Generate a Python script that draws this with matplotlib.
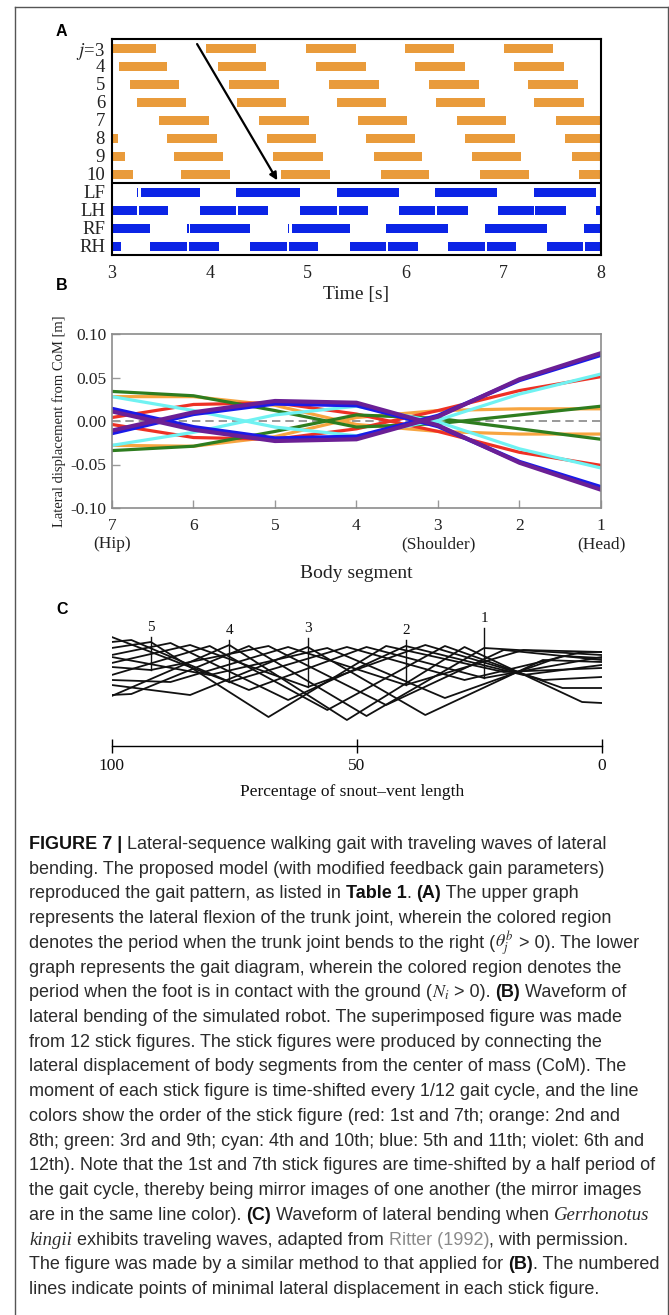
import matplotlib
matplotlib.use("Agg")
import matplotlib.pyplot as plt
from matplotlib.lines import Line2D

plt.rcParams['font.family'] = ['Liberation Serif', 'DejaVu Serif']
plt.rcParams['mathtext.fontset'] = 'stix'

W, H = 669, 1315
fig = plt.figure(figsize=(W / 100, H / 100), dpi=100)

ORANGE = '#e99b3b'
BLUE = '#0b24e6'

# ---------------- panel A data (times in s) ----------------
trunk_labels = [r'$j$=3', '4', '5', '6', '7', '8', '9', '10']
trunk_j3 = [(3.00, 3.45), (3.96, 4.47), (4.98, 5.49), (6.00, 6.50), (7.01, 7.51)]
trunk_j4 = [(3.07, 3.56), (4.08, 4.57), (5.09, 5.60), (6.10, 6.61), (7.11, 7.62)]
trunk_j5 = [(3.18, 3.68), (4.20, 4.71), (5.22, 5.73), (6.24, 6.75), (7.25, 7.76)]
trunk_j6 = [(3.26, 3.76), (4.28, 4.78), (5.30, 5.80), (6.31, 6.81), (7.32, 7.83)]
trunk_j7 = [(3.48, 3.99), (4.50, 5.01), (5.52, 6.02), (6.53, 7.03), (7.54, 8.00)]
trunk_j8 = [(3.00, 3.06), (3.56, 4.07), (4.58, 5.09), (5.60, 6.10), (6.61, 7.12), (7.63, 8.00)]
trunk_j9 = [(3.00, 3.13), (3.63, 4.14), (4.65, 5.16), (5.68, 6.17), (6.68, 7.18), (7.70, 8.00)]
trunk_j10 = [(3.00, 3.21), (3.71, 4.21), (4.73, 5.23), (5.75, 6.24), (6.76, 7.26), (7.77, 8.00)]

foot_labels = ['LF', 'LH', 'RF', 'RH']
foot_LF = [(3.26, 3.27), (3.30, 3.90), (4.27, 4.92), (5.30, 5.93), (6.30, 6.94), (7.32, 7.95)]
foot_LH = [(3.00, 3.26), (3.28, 3.57), (3.90, 4.27), (4.29, 4.60), (4.92, 5.30), (5.32, 5.62),
           (5.93, 6.30), (6.32, 6.64), (6.95, 7.32), (7.33, 7.64), (7.95, 8.00)]
foot_RF = [(3.00, 3.39), (3.77, 3.785), (3.80, 4.41), (4.795, 4.81), (4.84, 5.43), (5.80, 6.44),
           (6.81, 7.45), (7.83, 8.00)]
foot_RH = [(3.00, 3.09), (3.39, 3.77), (3.79, 4.09), (4.41, 4.79), (4.81, 5.11), (5.43, 5.80),
           (5.82, 6.13), (6.44, 6.81), (6.83, 7.13), (7.45, 7.82), (7.84, 8.00)]

trunk_rows = [trunk_j3, trunk_j4, trunk_j5, trunk_j6, trunk_j7, trunk_j8, trunk_j9, trunk_j10]
foot_rows = [foot_LF, foot_LH, foot_RF, foot_RH]
time_ticks = [3, 4, 5, 6, 7, 8]

# ---------------- panel B data (lateral displacement, m) ----------------
segments = [7, 6, 5, 4, 3, 2, 1]
seg_labels = ['7\n(Hip)', '6', '5', '4', '3\n(Shoulder)', '2', '1\n(Head)']
red_1 = [0.004, 0.019, 0.021, 0.008, -0.012, -0.036, -0.051]
red_7 = [-0.004, -0.019, -0.021, -0.009, 0.012, 0.035, 0.051]
orange_2 = [0.028, 0.028, 0.018, -0.004, -0.012, -0.015, -0.015]
orange_8 = [-0.028, -0.029, -0.018, 0.004, 0.012, 0.014, 0.014]
green_3 = [0.034, 0.029, 0.012, -0.007, -0.003, 0.007, 0.017]
green_9 = [-0.034, -0.029, -0.012, 0.007, 0.003, -0.009, -0.021]
cyan_4 = [0.028, 0.012, -0.007, -0.017, 0.001, 0.031, 0.054]
cyan_10 = [-0.028, -0.013, 0.007, 0.017, -0.001, -0.032, -0.054]
blue_5 = [0.014, -0.007, -0.020, -0.018, 0.006, 0.047, 0.076]
blue_11 = [-0.014, 0.008, 0.020, 0.018, -0.006, -0.047, -0.076]
violet_6 = [0.011, -0.010, -0.023, -0.021, 0.005, 0.048, 0.078]
violet_12 = [-0.011, 0.010, 0.023, 0.021, -0.005, -0.048, -0.079]

# ---------------- panel C data (traced stick figures) ----------------
# x: percentage of snout-vent length, y: lateral position in drawing units (down = larger)
c_pct_a = [100, 76, 52, 28, 4, 0]
c_pct_b = [100, 96, 72, 48, 24, 0]
c_pct_c = [100, 92, 68, 44, 20, 0]
c_pct_d = [100, 88, 64, 40, 16, 0]
c_pct_e = [100, 84, 60, 36, 12, 0]
c_pct_f = [100, 80, 56, 32, 8, 0]
stick_01 = [17, 62, 27, 60, 32, 32]
stick_02 = [22, 20, 70, 27, 58, 37]
stick_03 = [28, 22, 97, 26, 52, 48]
stick_04 = [35, 23, 80, 26, 55, 45]
stick_05 = [43, 25, 67, 25, 60, 57]
stick_06 = [55, 26, 90, 26, 68, 68]
stick_07 = [76, 25, 100, 27, 82, 83]
stick_08 = [75, 74, 26, 96, 28, 35]
stick_09 = [47, 50, 26, 85, 30, 40]
stick_10 = [60, 62, 27, 65, 30, 32]
stick_11 = [65, 75, 27, 95, 40, 42]
stick_12 = [37, 55, 28, 78, 36, 38]
marker_labels = ['5', '4', '3', '2', '1']
marker_pct = [92, 76, 60, 40, 24]
marker_top = [17, 20, 18, 20, 8]
marker_bottom = [50, 62, 67, 65, 58]
scale_ticks = [100, 50, 0]


def px_axes(x0, y0, x1, y1):
    return fig.add_axes([x0 / W, 1 - y1 / H, (x1 - x0) / W, (y1 - y0) / H])


# outer frame
for xs, ys in [([14.5, 14.5], [0, 6.5]), ([667.5, 667.5], [0, 6.5]), ([14.5, 667.5], [6.5, 6.5])]:
    fig.add_artist(Line2D([x / W for x in xs], [1 - y / H if y else 0 for y in ys],
                          transform=fig.transFigure, color='#555555', lw=1.0))

panel_font = dict(family='Liberation Sans', fontweight='bold', fontsize=11.5, ha='left', va='center')
fig.text(56 / W, 1 - 32 / H, 'A', **panel_font)
fig.text(56 / W, 1 - 286 / H, 'B', **panel_font)
fig.text(56 / W, 1 - 610 / H, 'C', **panel_font)

# ---------------- panel A ----------------
axA = px_axes(112, 39, 601, 255)
for i, segs in enumerate(trunk_rows):
    axA.broken_barh([(s, e - s) for s, e in segs], (i + 0.25, 0.5), facecolors=ORANGE, edgecolor='none')
for i, segs in enumerate(foot_rows):
    axA.broken_barh([(s, e - s) for s, e in segs], (8 + i + 0.25, 0.5), facecolors=BLUE, edgecolor='none')
axA.axhline(8, color='black', lw=1.5)
axA.annotate('', xy=(4.69, 7.85), xytext=(3.87, 0.28),
             arrowprops=dict(arrowstyle='-|>', color='black', lw=1.6, mutation_scale=11,
                             shrinkA=0, shrinkB=0))
axA.set_xlim(3, 8)
axA.set_ylim(12, 0)
axA.set_yticks([i + 0.5 for i in range(12)])
axA.set_yticklabels(trunk_labels + foot_labels, fontsize=13.5, color='#222222')
axA.set_xticks(time_ticks)
axA.set_xticklabels([str(t) for t in time_ticks], fontsize=13, color='#222222')
axA.tick_params(axis='both', length=0)
axA.tick_params(axis='y', pad=5)
axA.tick_params(axis='x', pad=7)
for sp in axA.spines.values():
    sp.set_linewidth(1.5)
fig.text(356 / W, 1 - 295 / H, 'Time [s]', fontsize=14, ha='center', va='center', color='#222222')

# ---------------- panel B ----------------
axB = px_axes(112, 334, 601, 508)
axB.axhline(0, color='#888888', lw=1.2, ls=(0, (5, 3)), zorder=1)
b_series = [
    (orange_2, '#f7a540', 2.3), (orange_8, '#f7a540', 2.3),
    (red_1, '#ee3124', 2.3), (red_7, '#ee3124', 2.3),
    (green_3, '#2e7d1f', 2.3), (green_9, '#2e7d1f', 2.3),
    (cyan_4, '#70f2f2', 2.3), (cyan_10, '#70f2f2', 2.3),
    (blue_5, '#1a1ae8', 3.0), (blue_11, '#1a1ae8', 3.0),
    (violet_6, '#6b1f95', 3.0), (violet_12, '#6b1f95', 3.0),
]
for vals, col, lw in b_series:
    axB.plot(segments, vals, color=col, lw=lw, solid_joinstyle='miter', zorder=2)
axB.set_xlim(7, 1)
axB.set_ylim(-0.10, 0.10)
axB.set_xticks(segments)
axB.set_xticklabels(seg_labels, fontsize=12.5, color='#222222', linespacing=1.2)
axB.set_yticks([-0.10, -0.05, 0.0, 0.05, 0.10])
axB.set_yticklabels(['-0.10', '-0.05', '0.00', '0.05', '0.10'], fontsize=12.5, color='#222222')
axB.tick_params(axis='both', direction='in', length=6, width=1, color='#999999')
axB.tick_params(axis='y', pad=4)
axB.tick_params(axis='x', pad=7)
for sp in axB.spines.values():
    sp.set_color('#8c8c8c')
    sp.set_linewidth(1.2)
fig.text(59 / W, 1 - 421 / H, 'Lateral displacement from CoM [m]', fontsize=10.5,
         rotation=90, ha='center', va='center', color='#222222')
fig.text(356 / W, 1 - 573 / H, 'Body segment', fontsize=14, ha='center', va='center', color='#222222')

# ---------------- panel C ----------------
axC = px_axes(111.7, 610, 601.7, 746)
c_lines = [
    (c_pct_a, stick_01), (c_pct_b, stick_02), (c_pct_c, stick_03), (c_pct_d, stick_04),
    (c_pct_e, stick_05), (c_pct_f, stick_06), (c_pct_a, stick_07), (c_pct_b, stick_08),
    (c_pct_c, stick_09), (c_pct_d, stick_10), (c_pct_e, stick_11), (c_pct_f, stick_12),
]
for xs, ys in c_lines:
    axC.plot(xs, ys, color='#111111', lw=1.3)
for lab, p, top, bot in zip(marker_labels, marker_pct, marker_top, marker_bottom):
    axC.plot([p, p], [top, bot], color='#111111', lw=1.0)
    axC.text(p, top - 3, lab, fontsize=11, ha='center', va='bottom', color='#111111')
axC.set_xlim(100, 0)
axC.set_ylim(126, -10)
for side in ['top', 'left', 'right']:
    axC.spines[side].set_visible(False)
axC.spines['bottom'].set_linewidth(1.0)
axC.set_yticks([])
axC.set_xticks(scale_ticks)
axC.set_xticklabels([str(t) for t in scale_ticks], fontsize=12.5, color='#111111')
axC.tick_params(axis='x', direction='inout', length=10, width=1.0, pad=4)
axC.patch.set_alpha(0)
fig.text(352 / W, 1 - 792 / H, 'Percentage of snout\u2013vent length', fontsize=12.5,
         ha='center', va='center', color='#111111')

# ---------------- caption ----------------
SANS = 'Liberation Sans'
CAP_SIZE = 13
CAP_COLOR = '#2b2b2b'
reg = dict(family=SANS, fontsize=CAP_SIZE, color=CAP_COLOR)
bold = dict(family=SANS, fontsize=CAP_SIZE, color='#111111', fontweight='bold')
ital = dict(family='Liberation Serif', fontsize=CAP_SIZE + 0.5, color=CAP_COLOR, style='italic')
link = dict(family=SANS, fontsize=CAP_SIZE, color='#8a8a8a')
math = dict(fontsize=CAP_SIZE, color=CAP_COLOR)

caption = [
    [('FIGURE 7 |', bold), (' Lateral-sequence walking gait with traveling waves of lateral', reg)],
    [('bending. The proposed model (with modified feedback gain parameters)', reg)],
    [('reproduced the gait pattern, as listed in ', reg), ('Table 1', bold), ('. ', reg),
     ('(A)', bold), (' The upper graph', reg)],
    [('represents the lateral flexion of the trunk joint, wherein the colored region', reg)],
    [('denotes the period when the trunk joint bends to the right (', reg), (r'$\theta_j^b$', math),
     (' > 0). The lower', reg)],
    [('graph represents the gait diagram, wherein the colored region denotes the', reg)],
    [('period when the foot is in contact with the ground (', reg), (r'$N_i$', math),
     (' > 0). ', reg), ('(B)', bold), (' Waveform of', reg)],
    [('lateral bending of the simulated robot. The superimposed figure was made', reg)],
    [('from 12 stick figures. The stick figures were produced by connecting the', reg)],
    [('lateral displacement of body segments from the center of mass (CoM). The', reg)],
    [('moment of each stick figure is time-shifted every 1/12 gait cycle, and the line', reg)],
    [('colors show the order of the stick figure (red: 1st and 7th; orange: 2nd and', reg)],
    [('8th; green: 3rd and 9th; cyan: 4th and 10th; blue: 5th and 11th; violet: 6th and', reg)],
    [('12th). Note that the 1st and 7th stick figures are time-shifted by a half period of', reg)],
    [('the gait cycle, thereby being mirror images of one another (the mirror images', reg)],
    [('are in the same line color). ', reg), ('(C)', bold),
     (' Waveform of lateral bending when ', reg), ('Gerrhonotus', ital)],
    [('kingii', ital), (' exhibits traveling waves, adapted from ', reg), ('Ritter (1992)', link),
     (', with permission.', reg)],
    [('The figure was made by a similar method to that applied for ', reg), ('(B)', bold),
     ('. The numbered', reg)],
    [('lines indicate points of minimal lateral displacement in each stick figure.', reg)],
]

renderer = fig.canvas.get_renderer()


def piece_width(s, kw):
    t = fig.text(0, 0, '|' + s + '|', **kw)
    w1 = t.get_window_extent(renderer).width
    t.remove()
    t = fig.text(0, 0, '||', **kw)
    w2 = t.get_window_extent(renderer).width
    t.remove()
    return w1 - w2


for n, line in enumerate(caption):
    x = 29.0
    y = 849 + 24.72 * n
    for s, kw in line:
        fig.text(x / W, 1 - y / H, s, va='baseline', ha='left', **kw)
        x += piece_width(s, kw)

fig.savefig('out.png', dpi=100)
